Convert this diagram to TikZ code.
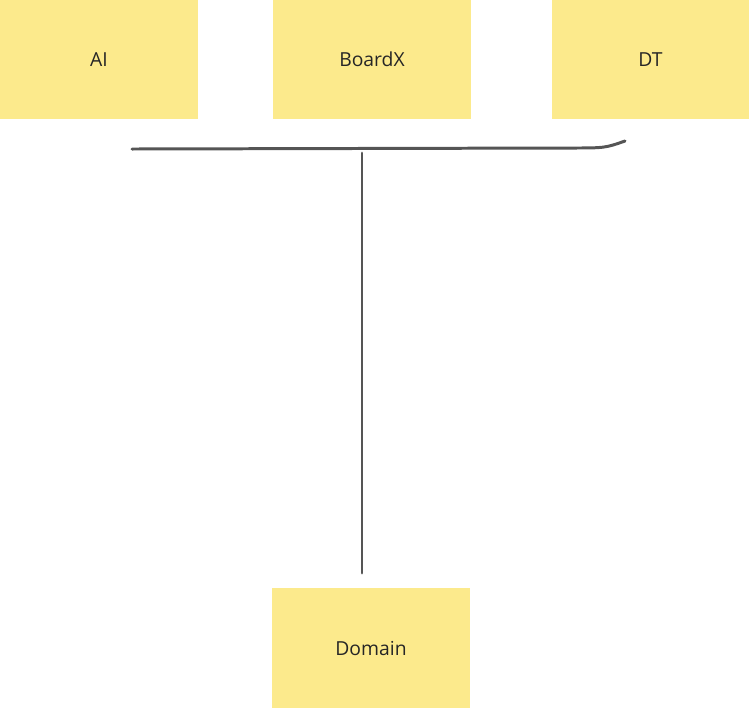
\documentclass[tikz,border=0pt]{standalone}
\usepackage{fontspec}
\setsansfont{Open Sans}
\definecolor{sticky}{HTML}{FCEA8C}
\definecolor{pen}{HTML}{555555}
\begin{document}
\begin{tikzpicture}[x=0.02cm, y=-0.02cm,
    note/.style={fill=sticky, minimum width=3.96cm, minimum height=2.38cm, inner sep=0pt, font=\sffamily\fontsize{11}{13}\selectfont, text=black!85},
    stroke/.style={draw=pen, line width=1.7pt, line cap=round}]
\useasboundingbox (0,0) rectangle (750,708);
\node[note] (ai) at (99,59.5) {AI};
\node[note] (boardx) at (372,59.5) {BoardX};
\node[note] (dt) at (650.5,59.5) {DT};
\node[note, minimum height=2.4cm] (domain) at (371,648) {Domain};

\coordinate (barL) at (132,149);
\coordinate (barR) at (625,141);
\coordinate (stemT) at (362,153);
\coordinate (stemB) at (362,573);
\draw[stroke] (barL) -- (570,148) .. controls (605,148) .. (barR);
\draw[stroke] (stemT) -- (362,435) -- (stemB);
\end{tikzpicture}
\end{document}
